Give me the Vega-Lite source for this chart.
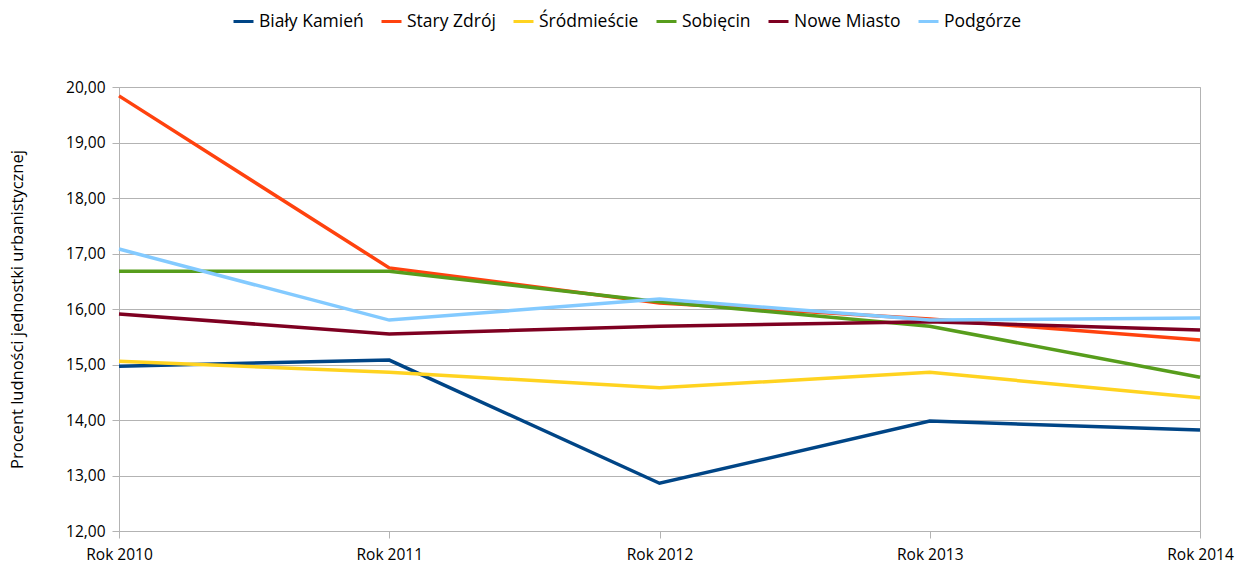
{
  "$schema": "https://vega.github.io/schema/vega-lite/v6.json",
  "width": 1081,
  "height": 444,
  "autosize": {"type": "none"},
  "padding": {"left": 119, "top": 87, "right": 39, "bottom": 34},
  "background": "white",
  "data": {
    "values": [
      {"rok": "Rok 2010", "jednostka": "Biały Kamień", "v": 14.97},
      {"rok": "Rok 2011", "jednostka": "Biały Kamień", "v": 15.08},
      {"rok": "Rok 2012", "jednostka": "Biały Kamień", "v": 12.86},
      {"rok": "Rok 2013", "jednostka": "Biały Kamień", "v": 13.98},
      {"rok": "Rok 2014", "jednostka": "Biały Kamień", "v": 13.82},
      {"rok": "Rok 2010", "jednostka": "Stary Zdrój", "v": 19.84},
      {"rok": "Rok 2011", "jednostka": "Stary Zdrój", "v": 16.74},
      {"rok": "Rok 2012", "jednostka": "Stary Zdrój", "v": 16.11},
      {"rok": "Rok 2013", "jednostka": "Stary Zdrój", "v": 15.82},
      {"rok": "Rok 2014", "jednostka": "Stary Zdrój", "v": 15.44},
      {"rok": "Rok 2010", "jednostka": "Śródmieście", "v": 15.06},
      {"rok": "Rok 2011", "jednostka": "Śródmieście", "v": 14.86},
      {"rok": "Rok 2012", "jednostka": "Śródmieście", "v": 14.58},
      {"rok": "Rok 2013", "jednostka": "Śródmieście", "v": 14.86},
      {"rok": "Rok 2014", "jednostka": "Śródmieście", "v": 14.4},
      {"rok": "Rok 2010", "jednostka": "Sobięcin", "v": 16.68},
      {"rok": "Rok 2011", "jednostka": "Sobięcin", "v": 16.68},
      {"rok": "Rok 2012", "jednostka": "Sobięcin", "v": 16.13},
      {"rok": "Rok 2013", "jednostka": "Sobięcin", "v": 15.69},
      {"rok": "Rok 2014", "jednostka": "Sobięcin", "v": 14.77},
      {"rok": "Rok 2010", "jednostka": "Nowe Miasto", "v": 15.91},
      {"rok": "Rok 2011", "jednostka": "Nowe Miasto", "v": 15.55},
      {"rok": "Rok 2012", "jednostka": "Nowe Miasto", "v": 15.69},
      {"rok": "Rok 2013", "jednostka": "Nowe Miasto", "v": 15.77},
      {"rok": "Rok 2014", "jednostka": "Nowe Miasto", "v": 15.62},
      {"rok": "Rok 2010", "jednostka": "Podgórze", "v": 17.08},
      {"rok": "Rok 2011", "jednostka": "Podgórze", "v": 15.8},
      {"rok": "Rok 2012", "jednostka": "Podgórze", "v": 16.18},
      {"rok": "Rok 2013", "jednostka": "Podgórze", "v": 15.8},
      {"rok": "Rok 2014", "jednostka": "Podgórze", "v": 15.84}
    ]
  },
  "mark": {"type": "line", "strokeWidth": 3.5, "strokeJoin": "miter"},
  "encoding": {
    "x": {
      "field": "rok",
      "type": "ordinal",
      "scale": {"type": "point", "padding": 0},
      "axis": {
        "title": null,
        "labelAngle": 0,
        "labelFontSize": 15.5,
        "labelPadding": 9,
        "tickSize": 7,
        "tickColor": "#b3b3b3",
        "domainColor": "#b3b3b3",
        "grid": false
      }
    },
    "y": {
      "field": "v",
      "type": "quantitative",
      "scale": {"domain": [12, 20], "nice": false, "zero": false},
      "axis": {
        "values": [12, 13, 14, 15, 16, 17, 18, 19, 20],
        "labelExpr": "replace(format(datum.value, '.2f'), '.', ',')",
        "title": "Procent ludności jednostki urbanistycznej",
        "titleFontSize": 16.5,
        "titleFontWeight": "normal",
        "titlePadding": 40,
        "labelFontSize": 15.5,
        "labelPadding": 7,
        "tickSize": 7,
        "tickColor": "#b3b3b3",
        "domainColor": "#b3b3b3",
        "gridColor": "#b3b3b3"
      }
    },
    "color": {
      "field": "jednostka",
      "type": "nominal",
      "scale": {
        "domain": ["Biały Kamień", "Stary Zdrój", "Śródmieście", "Sobięcin", "Nowe Miasto", "Podgórze"],
        "range": ["#004586", "#ff420e", "#ffd320", "#579d1c", "#7e0021", "#83caff"]
      },
      "legend": {
        "title": null,
        "orient": "none",
        "direction": "horizontal",
        "legendX": 113,
        "legendY": -77,
        "symbolType": "stroke",
        "symbolSize": 400,
        "symbolStrokeWidth": 3,
        "labelFontSize": 17.5,
        "labelOffset": 4,
        "columnPadding": 11,
        "labelLimit": 300
      }
    }
  },
  "config": {
    "font": "Open Sans",
    "view": {"stroke": "#b3b3b3"},
    "axis": {"labelColor": "black", "titleColor": "black", "labelFont": "Open Sans", "titleFont": "Open Sans"},
    "legend": {"labelColor": "black", "labelFont": "Open Sans"}
  }
}
